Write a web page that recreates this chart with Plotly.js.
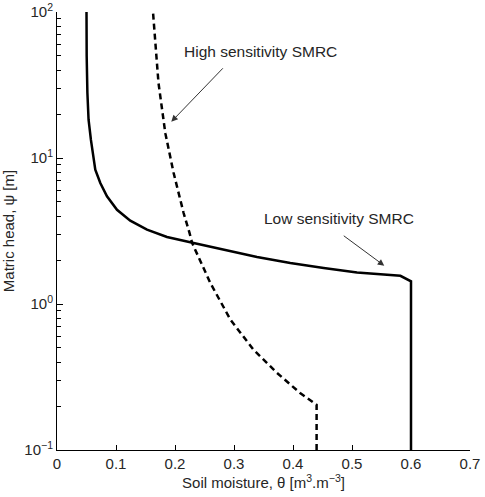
<!DOCTYPE html>
<html>
<head>
<meta charset="utf-8">
<script src="https://cdn.plot.ly/plotly-3.0.1.min.js"></script>
<style>html,body{margin:0;padding:0;background:#fff;}#chart{width:485px;height:497px;}</style>
</head>
<body>
<div id="chart"></div>
<script>
// Low sensitivity SMRC (solid)
const thetaLow = [0.6, 0.6, 0.582, 0.5085, 0.452, 0.3954, 0.339, 0.2824, 0.2316, 0.1864, 0.1525, 0.1242, 0.1017, 0.0847, 0.0734, 0.0649, 0.0593, 0.0575, 0.0535, 0.0515, 0.0503, 0.05];
const psiLow   = [0.1, 1.43, 1.56, 1.645, 1.765, 1.91, 2.10, 2.35, 2.62, 2.88, 3.23, 3.72, 4.42, 5.46, 6.74, 8.32, 11.4, 13.3, 18.3, 28, 50, 100];
// High sensitivity SMRC (dashed)
const thetaHigh = [0.44, 0.44, 0.412, 0.373, 0.333, 0.294, 0.26, 0.229, 0.2247, 0.2146, 0.1977, 0.1836, 0.172, 0.1627];
const psiHigh   = [0.1, 0.204, 0.246, 0.337, 0.486, 0.781, 1.39, 2.62, 3.06, 4.2, 7.89, 14.8, 32.7, 100];

const yTickVals = [0.1, 1, 10, 100];
const yTickText = ['10<sup>−1</sup>', '10<sup>0</sup>', '10<sup>1</sup>', '10<sup>2</sup>'];

const labelHigh = 'High sensitivity SMRC';
const labelLow = 'Low sensitivity SMRC';
const xTitle = 'Soil moisture, θ [m<sup>3</sup>.m<sup>−3</sup>]';
const yTitle = 'Matric head, ψ [m]';

const fam = 'Liberation Sans, Arial, sans-serif';
const tickFont = {family: fam, size: 15, color: '#262626'};
const titleFont = {family: fam, size: 15, color: '#262626'};
const annFont = {family: fam, size: 15.5, color: '#262626'};

const traces = [
  {x: thetaLow, y: psiLow, type: 'scatter', mode: 'lines', name: labelLow,
   line: {color: '#000', width: 2.5}},
  {x: thetaHigh, y: psiHigh, type: 'scatter', mode: 'lines', name: labelHigh,
   line: {color: '#000', width: 2.5, dash: '6px,4px'}}
];

const layout = {
  width: 485, height: 497,
  margin: {l: 57, r: 15, t: 12, b: 47},
  paper_bgcolor: '#fff', plot_bgcolor: '#fff',
  showlegend: false,
  font: tickFont,
  xaxis: {
    range: [0, 0.7], dtick: 0.1, tick0: 0,
    showgrid: false, zeroline: false,
    showline: true, linecolor: '#000', linewidth: 1,
    ticks: 'inside', ticklen: 5, tickcolor: '#000',
    tickfont: tickFont,
    title: {text: xTitle, font: titleFont, standoff: 6}
  },
  yaxis: {
    type: 'log', range: [-1, 2],
    tickmode: 'array', tickvals: yTickVals, ticktext: yTickText,
    showgrid: false, zeroline: false,
    showline: true, linecolor: '#000', linewidth: 1,
    ticks: 'inside', ticklen: 6, tickcolor: '#000',
    minor: {ticks: 'inside', ticklen: 4, tickcolor: '#000', dtick: 'D1', showgrid: false},
    tickfont: tickFont,
    title: {text: yTitle, font: titleFont, standoff: 6}
  },
  annotations: [
    {x: 0.1937, y: Math.log10(17.7), xref: 'x', yref: 'y', text: '', showarrow: true,
     ax: 53, ay: -55, arrowhead: 2, arrowsize: 1.3, arrowwidth: 1, arrowcolor: '#333'},
    {x: 0.5547, y: Math.log10(1.83), xref: 'x', yref: 'y', text: '', showarrow: true,
     ax: -42, ay: -31, arrowhead: 2, arrowsize: 1.3, arrowwidth: 1, arrowcolor: '#333'},
    {x: 0.3446, y: Math.log10(53.5), xref: 'x', yref: 'y', text: labelHigh, showarrow: false, font: annFont},
    {x: 0.4785, y: Math.log10(3.84), xref: 'x', yref: 'y', text: labelLow, showarrow: false, font: annFont}
  ]
};

Plotly.newPlot('chart', traces, layout, {staticPlot: true});
</script>
</body>
</html>
